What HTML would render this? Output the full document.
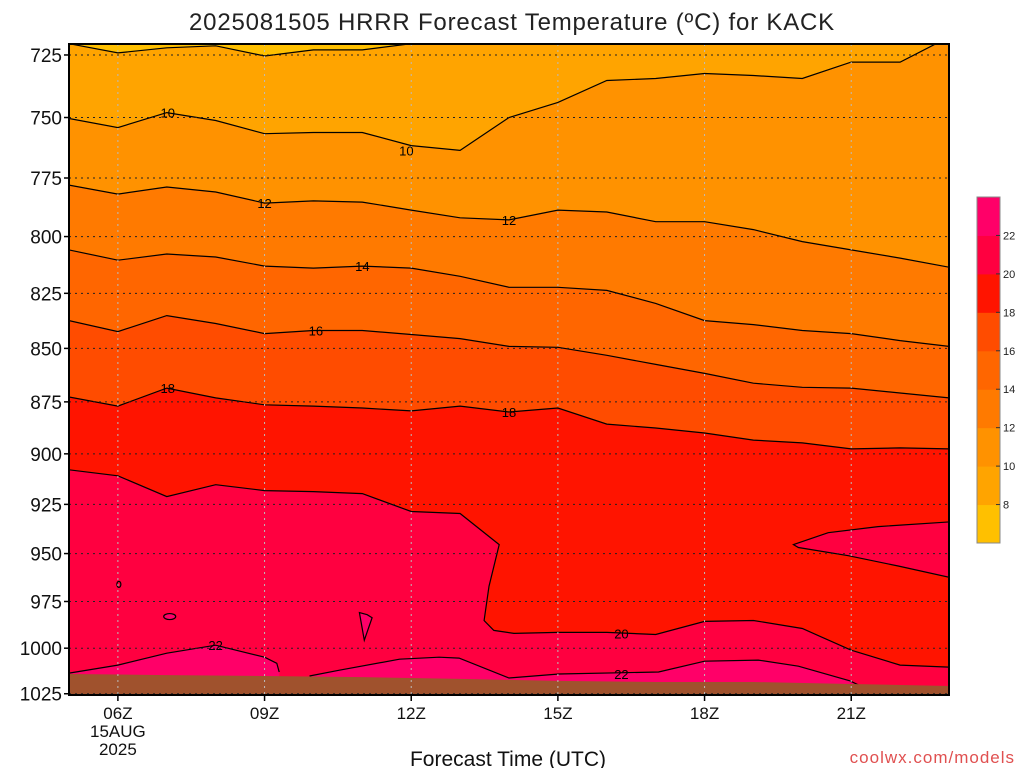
<!DOCTYPE html>
<html><head><meta charset="utf-8"><style>
body{margin:0;background:#fff;width:1024px;height:768px;overflow:hidden;font-family:"Liberation Sans",sans-serif}
svg text{font-family:"Liberation Sans",sans-serif}
</style></head><body>
<svg id="chart" width="1024" height="768" xmlns="http://www.w3.org/2000/svg">
<text x="512" y="30" text-anchor="middle" font-size="24" fill="#222" letter-spacing="0.8">2025081505 HRRR Forecast Temperature (ºC) for KACK</text>
<text x="508" y="766" text-anchor="middle" font-size="21" fill="#111">Forecast Time (UTC)</text>
<text x="1015" y="763" text-anchor="end" font-size="17" fill="#e05050" letter-spacing="1">coolwx.com/models</text>
<defs><clipPath id="pc"><rect x="69" y="44" width="880" height="651"/></clipPath></defs>
<g id="fills" clip-path="url(#pc)"></g>
<g id="overlay"></g>
</svg>
<script>
// ---- data ----
const hourTicks = [6,9,12,15,18,21];
const hourTickLabels = ["06Z","09Z","12Z","15Z","18Z","21Z"];
const pressureTicks = [725,750,775,800,825,850,875,900,925,950,975,1000,1025];
const levels = [8,10,12,14,16,18,20];
const bandColors = ["#ffc000","#ffa400","#ff9200","#ff7a00","#ff6600","#ff4c00","#ff1400","#ff0040","#ff0068"];
const colorbarLabels = [8,10,12,14,16,18,20,22];
const iso8Hours = [5,6,7,8,9,10,11,12,12.5,23];
const iso8P = [720.6,724.2,722.2,721.4,725.4,723,723,720.6,700,700];
const iso10Hours = [5,6,7,8,9,10,11,12,13,14,15,16,17,18,19,20,21,22,23];
const iso10P = [750.4,754.1,748,751.2,756.6,756.1,756.1,761.5,763.5,750,743.9,735.1,734.3,732.3,733.1,734.3,727.8,727.8,718];
const iso12P = [778,781.8,778.8,780.9,785.6,784.7,785.2,788.6,791.9,792.8,788.6,789.4,793.6,793.6,797,802.2,805.8,809.4,813.4];
const iso14P = [805.8,810.3,807.6,808.9,812.9,813.8,812.9,813.8,817.4,822.3,822.3,823.7,829.5,837.3,839.1,841.8,843.2,846.4,849.1];
const iso16P = [837.3,842.3,835,838.6,843.2,841.8,841.8,843.6,845.5,849.1,849.5,853.2,857.4,861.6,866.2,868.1,868.5,870.8,873.1];
const iso18P = [872.7,877,868.5,873.1,876.4,877,877.9,879.3,877,879.8,877.9,885.6,887.5,889.9,893.3,894.7,897.6,897.1,897.6];
const iso20Hours = [5,6,7,8,9,10,11,12,13,13.8,13.59,13.49,13.69,14.1,15,16,17,18,19,20,21,22,23];
const iso20P = [907.8,910.8,921.1,915.2,918.1,918.6,919.6,928.6,929.6,945.4,967,985.1,990.4,992,991.5,991.5,992.6,985.6,985.1,989.4,1001.1,1009.2,1010.3];
const warmIslandHours = [19.82,20.53,21.55,23.1,23.1,21.96,20.94,19.92];
const warmIslandP = [945.4,939.3,936.2,933.7,962.8,956.4,951.1,946.9];
const iso22aHours = [5,6,7,8,9,9.25,9.3];
const iso22aP = [1013.6,1009.2,1002.7,998.4,1004.9,1008.2,1013];
const iso22bHours = [9.92,10.53,11.76,12.57,12.98,14,15.02,17.06,18,19.1,19.92,20.98,21.35];
const iso22bP = [1015.2,1012,1006,1004.9,1005.4,1016.3,1014.1,1013,1007.1,1006.5,1009.8,1017.9,1022.8];
const hotSpotHours = [10.94,11.1,11.2,11.04];
const hotSpotP = [980.9,982,983.6,995.7];
const surfaceHours = [5,7,9,11,13,15,17,19,21,23];
const surfaceP = [1014.1,1014.7,1015.2,1015.8,1016.8,1017.9,1018.5,1018.5,1019.6,1020.7];
const contourLabelText = ["10","10","12","12","14","16","18","18","20","22","22"];
const contourLabelHour = [7.02,11.9,9,14,11,10.05,7.02,14,16.3,8,16.3];
const contourLabelP = [748,763.5,785.5,792.8,812.9,841.8,868.5,879.8,992,998.4,1014.1];

// ---- axes ----
const X0=69,X1=949,Y0=44,Y1=695,H0=5,H1=23,PT=720.7,PB=1025.7;
const xOf=h=>X0+(h-H0)/(H1-H0)*(X1-X0);
const yOf=p=>Y0+(Math.log(p)-Math.log(PT))/(Math.log(PB)-Math.log(PT))*(Y1-Y0);
const NS="http://www.w3.org/2000/svg";
const fills=document.getElementById('fills'), ov=document.getElementById('overlay');
function mk(tag,attrs,parent){const e=document.createElementNS(NS,tag);for(const k in attrs)e.setAttribute(k,attrs[k]);parent.appendChild(e);return e;}
const pts=(hs,ps)=>hs.map((h,i)=>xOf(h).toFixed(1)+','+yOf(ps[i]).toFixed(1));
function band(hs,ps,color,name){
  const a=pts(hs,ps);a.push(xOf(hs[hs.length-1])+','+yOf(1040));a.push(xOf(hs[0])+','+yOf(1040));
  const e=mk('polygon',{points:a.join(' '),fill:color},fills);
  
  
}
function line(hs,ps,name,closed){
  const e=mk(closed?'polygon':'polyline',{points:pts(hs,ps).join(' '),fill:'none',stroke:'#000','stroke-width':1.2},fills);
  
  
}
const r=mk('rect',{x:X0,y:Y0,width:X1-X0,height:Y1-Y0,fill:bandColors[0]},fills);


const isoH=[iso8Hours,iso10Hours,iso10Hours,iso10Hours,iso10Hours,iso10Hours,iso20Hours];
const isoP=[iso8P,iso10P,iso12P,iso14P,iso16P,iso18P,iso20P];
levels.forEach((lv,i)=>band(isoH[i],isoP[i],bandColors[i+1],'band-'+lv));
const wi=mk('polygon',{points:pts(warmIslandHours,warmIslandP).join(' '),fill:bandColors[7],stroke:'#000','stroke-width':1.2},fills);


band(iso22aHours,iso22aP,bandColors[8],'band-22-left');
band(iso22bHours,iso22bP,bandColors[8],'band-22-right');
const hs=mk('polygon',{points:pts(hotSpotHours,hotSpotP).join(' '),fill:bandColors[8],stroke:'#000','stroke-width':1.2},fills);


const el=mk('ellipse',{cx:xOf(7.06),cy:yOf(983),rx:6,ry:3,fill:bandColors[8],stroke:'#000','stroke-width':1.2},fills);


const el2=mk('ellipse',{cx:xOf(6.02),cy:yOf(966),rx:2,ry:3,fill:'none',stroke:'#000','stroke-width':1.2},fills);


levels.forEach((lv,i)=>{ if(i>0) line(isoH[i],isoP[i],'contour-'+lv,false); });
line(iso8Hours,iso8P,'contour-8',false);
line(iso22aHours,iso22aP,'contour-22-left',false);
line(iso22bHours,iso22bP,'contour-22-right',false);
// ground
{const a=pts(surfaceHours,surfaceP);a.push(xOf(23)+','+Y1);a.push(xOf(5)+','+Y1);
const g=mk('polygon',{points:a.join(' '),fill:'#a0522d'},fills);

}
// grid
pressureTicks.forEach(p=>{const g=mk('line',{x1:X0,x2:X1,y1:yOf(p),y2:yOf(p),stroke:'#222','stroke-width':1,'stroke-dasharray':'2,4'},fills);

});
hourTicks.forEach(h=>{const g=mk('line',{x1:xOf(h),x2:xOf(h),y1:Y0,y2:Y1,stroke:'#bbb','stroke-width':1,'stroke-dasharray':'2,4'},fills);

});
// contour labels
contourLabelText.forEach((t,i)=>{const e=mk('text',{x:xOf(contourLabelHour[i]),y:yOf(contourLabelP[i])+5,'text-anchor':'middle','font-size':13,fill:'#000'},fills);e.textContent=t;

});
// frame
const fr=mk('rect',{x:X0,y:Y0,width:X1-X0,height:Y1-Y0,fill:'none',stroke:'#000','stroke-width':2},ov);


pressureTicks.forEach(p=>{
  const t=mk('line',{x1:X0-5,x2:X0,y1:yOf(p),y2:yOf(p),stroke:'#000','stroke-width':1.5},ov);
  
  
  const e=mk('text',{x:62,y:yOf(p)+7,'text-anchor':'end','font-size':19,fill:'#111'},ov);e.textContent=p;
  
  
});
hourTicks.forEach((h,i)=>{
  const t=mk('line',{x1:xOf(h),x2:xOf(h),y1:Y1,y2:Y1+6,stroke:'#000','stroke-width':1.5},ov);
  
  
  const e=mk('text',{x:xOf(h),y:719,'text-anchor':'middle','font-size':17,fill:'#111'},ov);e.textContent=hourTickLabels[i];
  
  
});
[["15AUG",737],["2025",755]].forEach(([s,y])=>{const e=mk('text',{x:xOf(6),y:y,'text-anchor':'middle','font-size':17,fill:'#111'},ov);e.textContent=s;

});
// colorbar
const CB0=197,CB1=543,CX=977,CW=23,n=bandColors.length,bh=(CB1-CB0)/n;
bandColors.forEach((c,i)=>{const e=mk('rect',{x:CX,y:CB1-(i+1)*bh,width:CW,height:bh+0.5,fill:c},ov);

});
const cbf=mk('rect',{x:CX,y:CB0,width:CW,height:CB1-CB0,fill:'none',stroke:'#888','stroke-width':1},ov);


colorbarLabels.forEach((v,i)=>{const y=CB1-(i+1)*bh;
  const t=mk('line',{x1:CX+CW-4,x2:CX+CW,y1:y,y2:y,stroke:'#333'},ov);
  
  
  const e=mk('text',{x:1003,y:y+4,'font-size':11,fill:'#222'},ov);e.textContent=v;
  
  });
</script>
</body></html>
